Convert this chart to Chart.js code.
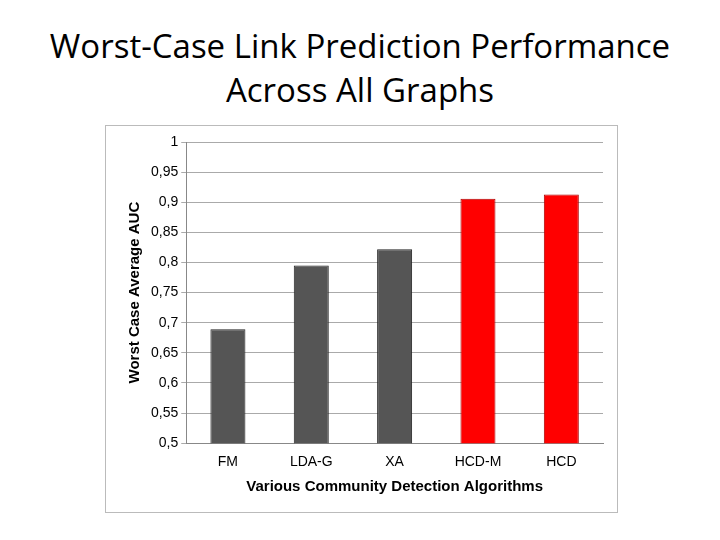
<!DOCTYPE html>
<html>
<head>
<meta charset="utf-8">
<script src="https://cdn.jsdelivr.net/npm/chart.js"></script>
<style>
  body { margin: 0; width: 720px; height: 540px; background: #fff; position: relative; font-family: "Open Sans", sans-serif; }
  #title { position: absolute; top: 24px; left: 0; width: 720px; text-align: center; font-size: 33px; line-height: 44px; color: #000; }
  #box { position: absolute; left: 105px; top: 125px; width: 511px; height: 386px; border: 1px solid #bbb; }
</style>
</head>
<body>
<div id="title">Worst-Case Link Prediction Performance<br>Across All Graphs</div>
<div id="box"><canvas id="chart" width="511" height="386"></canvas></div>
<script>
const categories = ['FM', 'LDA-G', 'XA', 'HCD-M', 'HCD'];
const aucValues = [0.689, 0.795, 0.822, 0.906, 0.913];
const barColors = ['#555555', '#555555', '#555555', '#ff0000', '#ff0000'];
const borderColors = ['#222222', '#222222', '#222222', '#aa0000', '#aa0000'];

new Chart(document.getElementById('chart').getContext('2d'), {
  type: 'bar',
  data: {
    labels: categories,
    datasets: [{
      data: aucValues,
      backgroundColor: barColors,
      borderColor: borderColors,
      borderWidth: 1,
      categoryPercentage: 1,
      barPercentage: 0.42
    }]
  },
  options: {
    responsive: false,
    animation: false,
    layout: { padding: { top: 16, right: 14, bottom: 12, left: 16 } },
    plugins: { legend: { display: false }, tooltip: { enabled: false } },
    scales: {
      x: {
        grid: { display: false },
        border: { color: '#888' },
        ticks: { color: '#000', font: { family: 'Liberation Sans', size: 14 } },
        title: { display: true, text: 'Various Community Detection Algorithms', color: '#000',
                 font: { family: 'Liberation Sans', size: 15, weight: 'bold' } }
      },
      y: {
        min: 0.5, max: 1,
        grid: { color: '#aaa', drawTicks: true, tickLength: 5 },
        border: { color: '#888' },
        ticks: { stepSize: 0.05, color: '#000', font: { family: 'Liberation Sans', size: 14 },
                 callback: v => String(Math.round(v * 100) / 100).replace('.', ',') },
        title: { display: true, text: 'Worst Case Average AUC', color: '#000',
                 font: { family: 'Liberation Sans', size: 15, weight: 'bold' } }
      }
    }
  }
});
</script>
</body>
</html>
